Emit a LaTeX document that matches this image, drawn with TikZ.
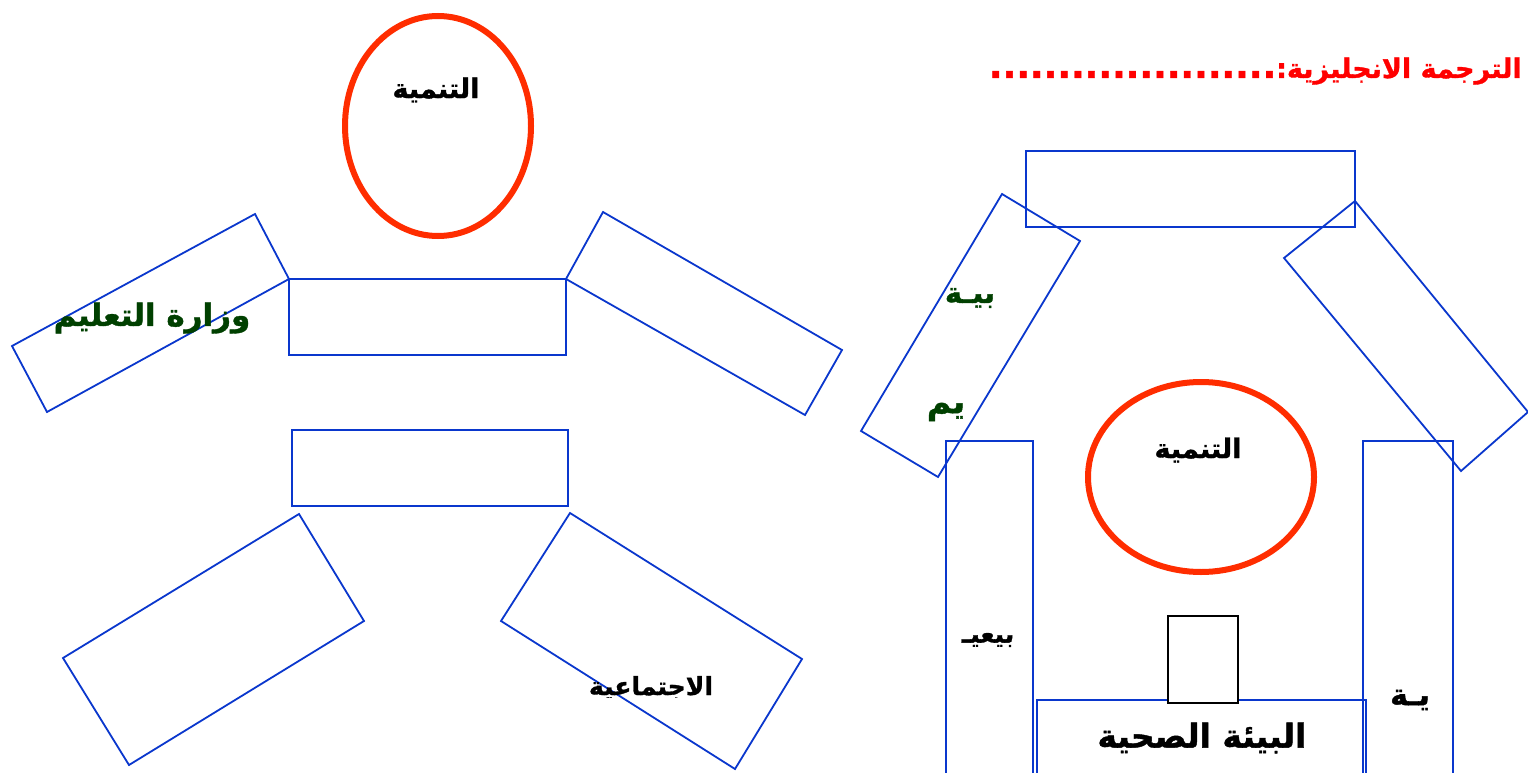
\documentclass[tikz,border=0pt]{standalone}
\usepackage{fontspec}
\newfontfamily\arabicfont[Script=Arabic, BoldFeatures={FakeBold=1.2}]{DejaVu Sans}
\TeXXeTstate=1
\definecolor{lineblue}{RGB}{10,55,205}
\definecolor{ringred}{RGB}{255,45,0}
\definecolor{txtgreen}{RGB}{0,64,0}
\definecolor{titlered}{RGB}{255,0,0}
\tikzset{
  box/.style={draw=lineblue, line width=1.8pt},
  smallbox/.style={draw=black, line width=1.6pt},
  ring/.style={draw=ringred, line width=6pt},
  lbl/.style={inner sep=0pt, font=\arabicfont\bfseries},
}
\newcommand{\ar}[1]{\beginR #1\endR}
\newcommand{\fsz}[1]{\fontsize{#1}{#1}\selectfont}
\begin{document}
\begin{tikzpicture}[x=1pt,y=-1pt]
\clip (0,0) rectangle (1528,773);
\fill[white] (0,0) rectangle (1528,773);

% ---------- left figure ----------
\draw[ring] (438,126) ellipse [x radius=93pt, y radius=110pt];
\node[lbl, font=\arabicfont\bfseries\fsz{27}] (headL) at (436,90) {\ar{التنمية}};

\draw[box] (289,279) rectangle (566,355);
\coordinate (bodyTL) at (289,279);
\coordinate (bodyTR) at (566,279);
\draw[box] (255,214) -- (bodyTL) -- (47,412) -- (12,346) -- cycle;
\draw[box] (603,212) -- (842,350) -- (805,415) -- (bodyTR) -- cycle;
\node[lbl, text=txtgreen, font=\arabicfont\bfseries\fsz{31}] (ministry) at (152,318) {\ar{وزارة التعليم}};

\draw[box] (292,430) rectangle (568,506);
\draw[box] (299,514) -- (364,621) -- (129,765) -- (63,658) -- cycle;
\draw[box] (570,513) -- (802,659) -- (735,769) -- (501,621) -- cycle;
\begin{scope}
\clip (500,600) rectangle (800,697);
\node[lbl, anchor=base, font=\arabicfont\bfseries\fsz{25}] (social) at (651,695) {\ar{الاجتماعية}};
\end{scope}

% ---------- right figure ----------
\node[lbl, anchor=base east, text=titlered, font=\arabicfont\bfseries\fsz{27}] (title) at (1522,78) {\ar{الترجمة الانجليزية:{\fsz{36}.....................}}};

\draw[box] (1026,151) rectangle (1355,227);
\draw[box] (1002,194) -- (1080,241) -- (938,477) -- (861,431) -- cycle;
\draw[box] (1355,201) -- (1528,412) -- (1461,471) -- (1284,258) -- cycle;
\draw[box] (946,441) rectangle (1033,790);
\draw[box] (1363,441) rectangle (1453,790);
\draw[ring] (1201,477) ellipse [x radius=113pt, y radius=95pt];
\node[lbl, font=\arabicfont\bfseries\fsz{27}] (headR) at (1198,450) {\ar{التنمية}};

\draw[box] (1037,700) rectangle (1366,790);
\draw[smallbox, fill=white] (1168,616) rectangle (1238,703);
\node[lbl, font=\arabicfont\bfseries\fsz{33}] (health) at (1202,738) {\ar{البيئة الصحية}};

\node[lbl, text=txtgreen, font=\arabicfont\bfseries\fsz{29}] (fragA) at (970,298) {\ar{بيـة}};
\node[lbl, text=txtgreen, font=\arabicfont\bfseries\fsz{33}] (fragB) at (946,412) {\ar{يم}};
\node[lbl, font=\arabicfont\bfseries\fsz{25}] (fragC) at (988,640) {\ar{بيعيـ}};
\node[lbl, font=\arabicfont\bfseries\fsz{30}] (fragD) at (1410,700) {\ar{يـة}};
\end{tikzpicture}
\end{document}
